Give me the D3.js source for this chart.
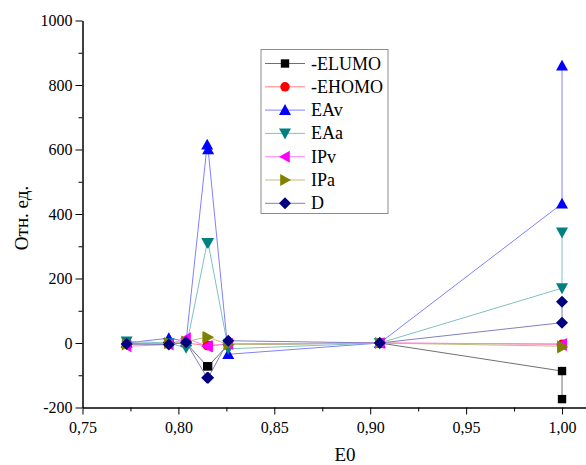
<!DOCTYPE html>
<html>
<head>
<meta charset="utf-8">
<script src="https://cdn.jsdelivr.net/npm/d3@7"></script>
<style>
  body { margin: 0; background: #fff; }
  svg { display: block; font-family: "Liberation Serif", "Times New Roman", serif; }
  .axis path, .axis line { stroke: #000; }
</style>
</head>
<body>
<div class="container"></div>
<script>
const WIDTH = 586;
const HEIGHT = 465;
const SERIF = '"Liberation Serif", "Times New Roman", serif';

// E0 values (two points share 0.815 and 1.00)
var e0 = [0.773, 0.795, 0.804, 0.815, 0.8155, 0.826, 0.905, 1.000, 1.000];

var elumo = [0, -3, 0, -72, -72, -5, 0, -87, -174];
var ehomo = [-2, -3, 0, -8, -8, -3, 0, -4, -6];
var eav   = [0, 15, 5, 615, 600, -35, 0, 432, 860];
var eaa   = [5, 0, -15, 311, 311, -18, 0, 170, 343];
var ipv   = [-10, -5, 15, -10, -10, -3, 0, -3, -6];
var ipa   = [-5, 0, 5, 18, 18, -5, 0, -10, -14];
var dd    = [-3, -5, 2, -108, -108, 7, 0, 63, 128];

var seriesNames = ['-ELUMO', '-EHOMO', 'EAv', 'EAa', 'IPv', 'IPa', 'D'];

var xTicks = [0.75, 0.80, 0.85, 0.90, 0.95, 1.00];
var xMinor = [0.775, 0.825, 0.875, 0.925, 0.975];
var yTicks = [-200, 0, 200, 400, 600, 800, 1000];
var yMinor = [-100, 100, 300, 500, 700, 900];

var series = [
    {name: seriesNames[0], values: elumo, color: '#000000', line: '#707070', shape: d3.symbolSquare, size: 70},
    {name: seriesNames[1], values: ehomo, color: '#ff0000', line: '#ff8080', shape: d3.symbolCircle, size: 70},
    {name: seriesNames[2], values: eav,   color: '#0000ff', line: '#8080ff', shape: 'up', size: 6},
    {name: seriesNames[3], values: eaa,   color: '#008080', line: '#80c0c0', shape: 'down', size: 6},
    {name: seriesNames[4], values: ipv,   color: '#ff00ff', line: '#ff80ff', shape: 'left', size: 6},
    {name: seriesNames[5], values: ipa,   color: '#808000', line: '#c0c080', shape: 'right', size: 6},
    {name: seriesNames[6], values: dd,    color: '#000080', line: '#8080c0', shape: 'diamond', size: 6}
];

var translate = function (x, y) {
    return "translate(" + x + "," + y + ")";
};

// marker path centred at 0,0
var markerPath = function (s) {
    var r = s.size;
    if (s.shape === 'up') return 'M0,' + (-r) + 'L' + r + ',' + (r * 0.8) + 'L' + (-r) + ',' + (r * 0.8) + 'Z';
    if (s.shape === 'down') return 'M0,' + r + 'L' + r + ',' + (-r * 0.8) + 'L' + (-r) + ',' + (-r * 0.8) + 'Z';
    if (s.shape === 'left') return 'M' + (-r) + ',0L' + (r * 0.8) + ',' + (-r) + 'L' + (r * 0.8) + ',' + r + 'Z';
    if (s.shape === 'right') return 'M' + r + ',0L' + (-r * 0.8) + ',' + (-r) + 'L' + (-r * 0.8) + ',' + r + 'Z';
    if (s.shape === 'diamond') return 'M0,' + (-r) + 'L' + r + ',0L0,' + r + 'L' + (-r) + ',0Z';
    return d3.symbol().type(s.shape).size(s.size)();
};

var svg = d3.select('.container').append('svg')
    .attr('width', WIDTH)
    .attr('height', HEIGHT);

var xScale = d3.scaleLinear()
    .domain([0.75, 1.0125])
    .range([82.5, 586]);

var yScale = d3.scaleLinear()
    .domain([-200, 1000])
    .range([407.5, 20.5]);

var commaFmt = function (d) { return d3.format('.2f')(d).replace('.', ','); };

var styleAxis = function (g) {
    g.attr('font-family', SERIF).attr('font-size', 16);
    g.selectAll('text').style('font-family', SERIF).style('font-size', '16px').attr('fill', '#000');
};

// axes
svg.append('g').attr('class', 'axis')
    .attr('transform', translate(0, 407.5))
    .call(d3.axisBottom(xScale).tickValues(xMinor).tickSize(4).tickSizeOuter(0).tickFormat(''));
svg.append('g').attr('class', 'axis')
    .attr('transform', translate(0, 407.5))
    .call(d3.axisBottom(xScale).tickValues(xTicks).tickSize(7).tickSizeOuter(0).tickFormat(commaFmt))
    .call(styleAxis)
    .selectAll('text').attr('dy', '0.95em');

svg.append('g').attr('class', 'axis')
    .attr('transform', translate(82.5, 0))
    .call(d3.axisLeft(yScale).tickValues(yMinor).tickSize(4).tickSizeOuter(0).tickFormat(''));
svg.append('g').attr('class', 'axis')
    .attr('transform', translate(82.5, 0))
    .call(d3.axisLeft(yScale).tickValues(yTicks).tickSize(7).tickSizeOuter(0).tickFormat(function (d) { return String(d); }))
    .call(styleAxis)
    .selectAll('text').attr('x', -10);

// axis titles
svg.append('text')
    .attr('x', 345).attr('y', 461)
    .attr('text-anchor', 'middle')
    .style('font-size', '19px')
    .text('E0');

svg.append('text')
    .attr('transform', translate(28, 218) + ' rotate(-90)')
    .attr('text-anchor', 'middle')
    .style('font-size', '19px')
    .text('Отн. ед.');

// lines
var line = d3.line()
    .x(function (d, i) { return xScale(e0[i]); })
    .y(function (d) { return yScale(d); });

var plot = svg.append('g');

series.forEach(function (s) {
    plot.append('path')
        .attr('d', line(s.values))
        .attr('fill', 'none')
        .attr('stroke', s.line)
        .attr('stroke-width', 1);
});

series.forEach(function (s) {
    plot.selectAll(null)
        .data(s.values)
        .enter()
        .append('path')
        .attr('transform', function (d, i) { return translate(xScale(e0[i]), yScale(d)); })
        .attr('d', markerPath(s))
        .attr('fill', s.color);
});

// legend
var legend = svg.append('g').attr('transform', translate(261, 49.5));
legend.append('rect')
    .attr('width', 127).attr('height', 164)
    .attr('fill', '#fff')
    .attr('stroke', '#8c8c8c')
    .attr('stroke-width', 1);

series.forEach(function (s, i) {
    var g = legend.append('g').attr('transform', translate(0, 14 + i * 23.3));
    g.append('line')
        .attr('x1', 4).attr('x2', 44)
        .attr('stroke', s.line).attr('stroke-width', 1);
    g.append('path')
        .attr('transform', translate(24, 0))
        .attr('d', markerPath(s))
        .attr('fill', s.color);
    g.append('text')
        .attr('x', 50).attr('y', 6)
        .style('font-size', '18px')
        .text(s.name);
});
</script>
</body>
</html>
